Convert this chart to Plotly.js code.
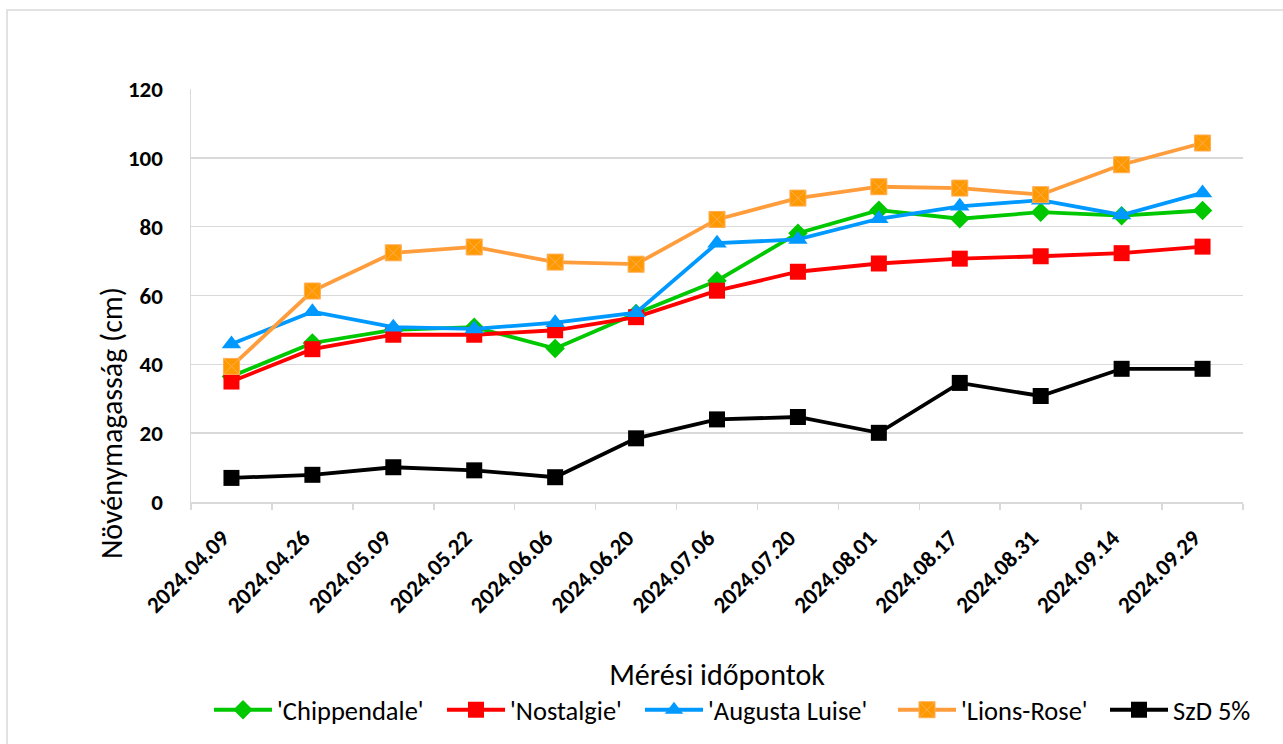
<!DOCTYPE html>
<html>
<head>
<meta charset="utf-8">
<script src="https://cdn.plot.ly/plotly-3.0.1.min.js"></script>
<style>
html,body{margin:0;padding:0;background:#fff;}
#chart{width:1283px;height:744px;}
</style>
</head>
<body>
<div id="chart"></div>
<script>
const dates = ["2024.04.09","2024.04.26","2024.05.09","2024.05.22","2024.06.06","2024.06.20","2024.07.06","2024.07.20","2024.08.01","2024.08.17","2024.08.31","2024.09.14","2024.09.29"];
const chippendale = [36.5, 46.2, 50.0, 50.8, 44.6, 54.8, 64.3, 78.1, 84.8, 82.3, 84.2, 83.2, 84.7];
const nostalgie   = [35.0, 44.4, 48.6, 48.6, 49.9, 53.7, 61.4, 66.9, 69.3, 70.7, 71.4, 72.3, 74.2];
const augusta     = [45.9, 55.3, 50.8, 50.3, 52.1, 55.0, 75.2, 76.3, 82.3, 85.9, 87.7, 83.4, 89.8];
const lionsRose   = [39.4, 61.3, 72.4, 74.1, 69.7, 69.1, 82.1, 88.3, 91.6, 91.2, 89.3, 98.0, 104.3];
const szd5        = [7.0, 7.9, 10.1, 9.2, 7.2, 18.5, 24.0, 24.7, 20.1, 34.6, 30.8, 38.7, 38.7];

const seriesNames = ["'Chippendale'", "'Nostalgie'", "'Augusta Luise'", "'Lions-Rose'", "SzD 5%"];
const yTitle = "Növénymagasság (cm)";
const xTitle = "Mérési időpontok";

const FONT = "Calibri, Carlito, Lato, 'Noto Sans', sans-serif";

// plot area in pixels
const PL = 191, PR = 1243, PT = 89, PB = 502;
const PW = PR - PL, PH = PB - PT;
const px2x = p => (p - PL) / PW;
const px2y = p => (PB - p) / PH;

function tr(name, y, legend, color, symbol, size, lineColor, mlineColor, mlineWidth) {
  return {
    type: 'scatter', mode: 'lines+markers', name: name, x: dates, y: y, legend: legend,
    line: {color: lineColor || color, width: 3.8},
    marker: {color: color, symbol: symbol, size: size,
             line: {color: mlineColor || color, width: mlineWidth || 0}}
  };
}

const data = [
  tr(seriesNames[0], chippendale, 'legend',  '#00c800', 'diamond', 15),
  tr(seriesNames[1], nostalgie,   'legend2', '#ff0000', 'square', 16),
  tr(seriesNames[2], augusta,     'legend3', '#0099ff', 'triangle-up', 17),
  tr(seriesNames[3], lionsRose,   'legend4', '#ff9900', 'square-x', 16, '#ff9d3c', '#ffad55', 1),
  tr(seriesNames[4], szd5,        'legend5', '#000000', 'square', 16)
];

// legend symbol centres (px) taken from the reference layout
const legendCentres = [242, 475, 673, 926, 1138];
function leg(cx) {
  return {orientation: 'h', x: px2x(cx - 33), xanchor: 'left', y: px2y(710), yanchor: 'middle',
          font: {size: 26.5, family: FONT, color: '#000'}, itemwidth: 58,
          bgcolor: 'rgba(0,0,0,0)', borderwidth: 0};
}

const layout = {
  width: 1283, height: 744,
  paper_bgcolor: '#ffffff', plot_bgcolor: '#ffffff',
  margin: {l: PL, r: 1283 - PR, t: PT, b: 744 - PB, autoexpand: false},
  font: {family: FONT, color: '#000'},
  showlegend: true,
  legend: leg(legendCentres[0]),
  legend2: leg(legendCentres[1]),
  legend3: leg(legendCentres[2]),
  legend4: leg(legendCentres[3]),
  legend5: leg(legendCentres[4]),
  xaxis: {
    type: 'category', range: [-0.5, dates.length - 0.5], autorange: false,
    showgrid: false, zeroline: false,
    showline: true, linecolor: '#d9d9d9', linewidth: 1.5,
    ticks: 'outside', tickson: 'boundaries', ticklen: 6, tickcolor: '#d9d9d9', tickwidth: 1.5,
    tickangle: -45, ticklabelshift: -9, ticklabelstandoff: 12,
    tickfont: {size: 23, family: FONT, color: '#000', weight: 'bold'},
    title: {text: xTitle, font: {size: 30, family: FONT, color: '#000'}, standoff: 46},
    fixedrange: true, automargin: false
  },
  yaxis: {
    range: [0, 120], autorange: false, dtick: 20, showgrid: true, gridcolor: '#d9d9d9', gridwidth: 1.5,
    zeroline: false, showline: true, linecolor: '#d9d9d9', linewidth: 1.5,
    ticks: '', ticklabelstandoff: 22,
    tickfont: {size: 23, family: FONT, color: '#000', weight: 'bold'},
    fixedrange: true, automargin: false
  },
  annotations: [{
    text: yTitle, xref: 'paper', yref: 'paper', x: px2x(111), y: px2y(423),
    xanchor: 'center', yanchor: 'middle', textangle: -90, showarrow: false,
    font: {size: 30, family: FONT, color: '#000'}
  }],
  shapes: [{
    type: 'rect', xref: 'paper', yref: 'paper',
    x0: px2x(7), x1: px2x(1300), y0: px2y(760), y1: px2y(10),
    line: {color: '#d9d9d9', width: 1.5}, fillcolor: 'rgba(0,0,0,0)', layer: 'below'
  }]
};

Plotly.newPlot('chart', data, layout, {displayModeBar: false, staticPlot: true});
</script>
</body>
</html>
